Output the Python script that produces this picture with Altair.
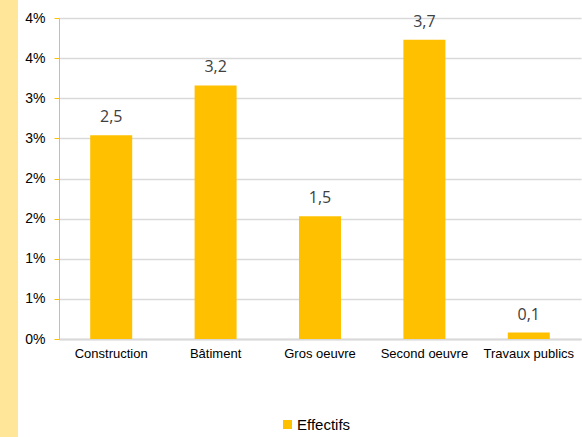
import altair as alt
import pandas as pd

categories = ["Construction", "Bâtiment", "Gros oeuvre", "Second oeuvre", "Travaux publics"]
values = [0.0254, 0.0316, 0.0153, 0.0373, 0.0008]
value_labels = ["2,5", "3,2", "1,5", "3,7", "0,1"]
series_name = "Effectifs"
y_ticks = [0, 0.005, 0.01, 0.015, 0.02, 0.025, 0.03, 0.035, 0.04]

df = pd.DataFrame({"cat": categories, "val": values, "lab": value_labels, "serie": [series_name] * len(categories)})

W, H = 522, 321

x_enc = alt.X("cat:N", sort=categories, scale=alt.Scale(paddingInner=0, paddingOuter=0),
              axis=alt.Axis(title=None, labelAngle=0, ticks=False, domainColor="#D9D9D9", domainWidth=2,
                            labelFont="Arial", labelFontSize=13, labelFontWeight="normal",
                            labelColor="#000000", labelPadding=8, grid=False))
y_enc = alt.Y("val:Q", scale=alt.Scale(domain=[0, 0.04], nice=False),
              axis=alt.Axis(title=None, values=y_ticks, format=".0%", domainColor="#FFC000",
                            tickColor="#FFC000", tickSize=5, gridColor="#D9D9D9", gridWidth=1.5,
                            labelFont="Arial", labelFontSize=14, labelFontWeight="normal",
                            labelColor="#000000", labelPadding=9))

bars = alt.Chart(df).mark_bar(size=42, color="#FFC000").encode(
    x=x_enc, y=y_enc,
    color=alt.Color("serie:N", scale=alt.Scale(range=["#FFC000"]),
                    legend=alt.Legend(title=None, orient="none", legendX=221, legendY=399,
                                      symbolType="square", symbolSize=81, symbolStrokeWidth=0,
                                      labelFont="Arial", labelFontSize=15, labelFontWeight="normal",
                                      labelColor="#000000", labelOffset=2))
)

text = alt.Chart(df).mark_text(font="Open Sans", fontSize=16, color="#404040", dy=-18).encode(
    x=alt.X("cat:N", sort=categories), y="val:Q", text="lab:N"
)

strip = alt.Chart(df).mark_rect(color="#FFE699", clip=False).encode(
    x=alt.value(-59), x2=alt.value(-41), y=alt.value(-18), y2=alt.value(H + 98)
)

chart = alt.layer(strip, bars, text).properties(
    width=W, height=H,
    autosize=alt.AutoSizeParams(type="none"),
    padding={"left": 59, "top": 18, "right": 1, "bottom": 98},
    background="#FFFFFF",
).configure_view(stroke=None)

chart.save("out.html", embed_options={"renderer": "svg", "actions": False})
